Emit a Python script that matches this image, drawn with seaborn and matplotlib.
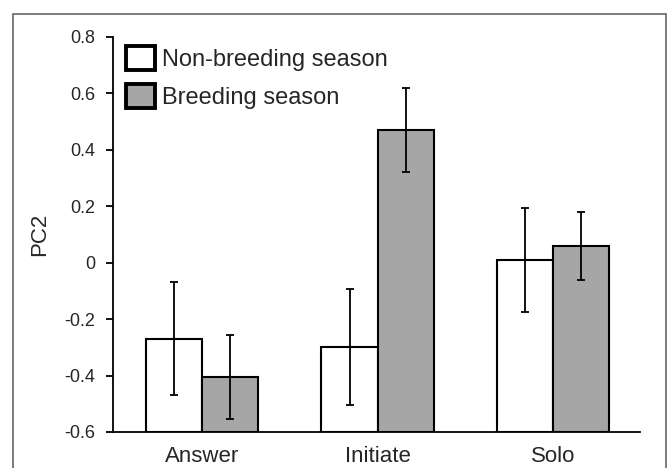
import matplotlib
matplotlib.use("Agg")
import matplotlib.pyplot as plt
from matplotlib.patches import Patch, Rectangle
import seaborn as sns
import pandas as pd
import numpy as np

categories = ["Answer", "Initiate", "Solo"]
seasons = ["Non-breeding season", "Breeding season"]
nonbreeding_mean = [-0.27, -0.30, 0.01]
nonbreeding_err = [0.20, 0.205, 0.185]
breeding_mean = [-0.405, 0.47, 0.06]
breeding_err = [0.15, 0.15, 0.12]
yticks = [-0.6, -0.4, -0.2, 0, 0.2, 0.4, 0.6, 0.8]
ytick_labels = ["-0.6", "-0.4", "-0.2", "0", "0.2", "0.4", "0.6", "0.8"]

baseline = -0.6

df = pd.DataFrame({
    "category": categories * 2,
    "season": [seasons[0]] * 3 + [seasons[1]] * 3,
    "mean": nonbreeding_mean + breeding_mean,
    "err": nonbreeding_err + breeding_err,
})
df["height"] = df["mean"] - baseline

sns.set_style("white")
plt.rcParams["font.family"] = ["Liberation Sans", "DejaVu Sans"]

fig = plt.figure(figsize=(6.69, 4.68), dpi=100)
ax = fig.add_axes([0.169, 0.077, 0.788, 0.844])

palette = {seasons[0]: "#ffffff", seasons[1]: "#a6a6a6"}
sns.barplot(data=df, x="category", y="height", hue="season", order=categories,
            hue_order=seasons, palette=palette, errorbar=None, width=0.64,
            edgecolor="black", linewidth=1.5, ax=ax, legend=False,
            bottom=baseline)

# error bars at bar centres
bars = [p for p in ax.patches if isinstance(p, Rectangle)]
bars = sorted(bars, key=lambda p: p.get_x())
order_keys = []
for cat in categories:
    for s in seasons:
        order_keys.append((cat, s))
lookup = {(r.category, r.season): (r["mean"], r.err) for _, r in df.iterrows()}
for p, key in zip(bars, order_keys):
    m, e = lookup[key]
    ax.errorbar(p.get_x() + p.get_width() / 2, m, yerr=e, fmt="none",
                ecolor="black", elinewidth=1.3, capsize=2.8, capthick=1.3, zorder=5)

ax.set_xlim(-0.51, 2.5)
ax.set_ylim(-0.6, 0.8)
ax.set_yticks(yticks)
ax.set_yticklabels(ytick_labels, fontsize=13)
ax.tick_params(axis="y", direction="out", length=5, width=1.3, color="black", pad=8, left=True)
ax.tick_params(axis="x", length=0, labelsize=16, pad=10)
ax.set_xlabel("")
ax.set_ylabel("PC2", fontsize=16, labelpad=10)
for side in ["top", "right"]:
    ax.spines[side].set_visible(False)
for side in ["left", "bottom"]:
    ax.spines[side].set_color("black")
    ax.spines[side].set_linewidth(1.3)

handles = [Patch(facecolor=palette[s], edgecolor="black", linewidth=2.8, label=s) for s in seasons]
ax.legend(handles=handles, loc="upper left", bbox_to_anchor=(0.012, 0.995), frameon=False,
          fontsize=17, handlelength=1.2, handleheight=1.2, handletextpad=0.3,
          labelspacing=0.55, borderaxespad=0.1, borderpad=0.2)

# outer frame of the figure
frame = Rectangle((13 / 669, -0.05), (666 - 13) / 669, 1.05 - 14 / 468,
                  transform=fig.transFigure, fill=False, edgecolor="#666666",
                  linewidth=1.2, zorder=0)
fig.patches.append(frame)

fig.savefig("out.png", dpi=100)
